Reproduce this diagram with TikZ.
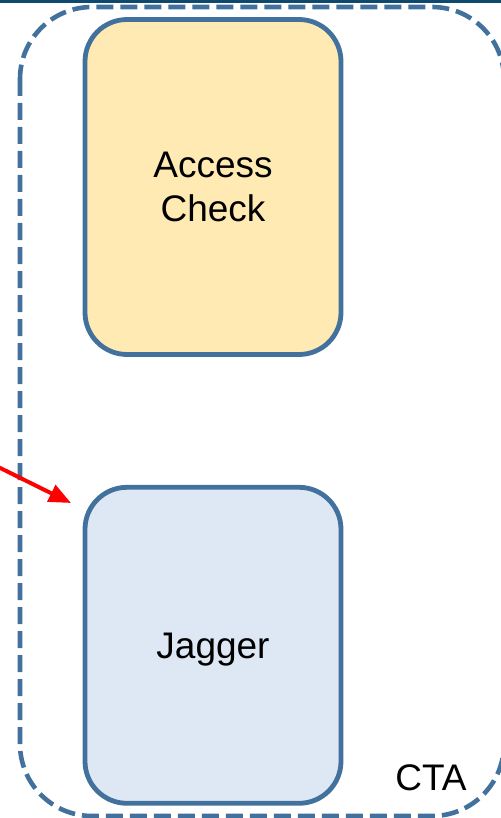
\documentclass[tikz,border=0pt]{standalone}
\usepackage{fontspec}
\setmainfont{Liberation Sans}
\usepackage{xcolor}
\usetikzlibrary{arrows.meta,positioning}
\definecolor{boxBorder}{HTML}{41719C}
\definecolor{checkFill}{HTML}{FFEAB3}
\definecolor{jaggerFill}{HTML}{DEE8F4}
\definecolor{bandNavy}{HTML}{0E4A6E}

\begin{document}
\begin{tikzpicture}[
        x=0.5pt,y=-0.5pt,
        every node/.style={font=\fontsize{18.5}{22.2}\selectfont},
        box/.style={rectangle,rounded corners=21pt,draw=boxBorder,
                    minimum width=128pt,inner sep=0pt,align=center,
                    line width=2.4pt},
        group/.style={draw=boxBorder,line width=2.3pt,rounded corners=36pt,
                      dash pattern=on 8.5pt off 3.5pt},
        arr/.style={-{Triangle[length=11pt,width=9pt]},color=red,line width=2pt}
      ]
        \useasboundingbox (0,0) rectangle (501,818);
        \clip (0,0) rectangle (501,818);
        % band along the top edge
        \fill[bandNavy] (0,0) rectangle (501,3);
        % CTA group frame
        \draw[group] (20,7) rectangle (504,816);
        \node[box,fill=checkFill,minimum height=167.5pt] (check) at (213,187) {Access\\Check};
        \node[box,fill=jaggerFill,minimum height=158pt,text depth=0pt,
              below=64pt of check] (jagger) {Jagger};
        \node (cta) at (431,778) {CTA};
        \coordinate (feed) at (-20,458);
        \coordinate (tip) at (71,503);
        \draw[arr] (feed)--(tip);
      \end{tikzpicture}
\end{document}
